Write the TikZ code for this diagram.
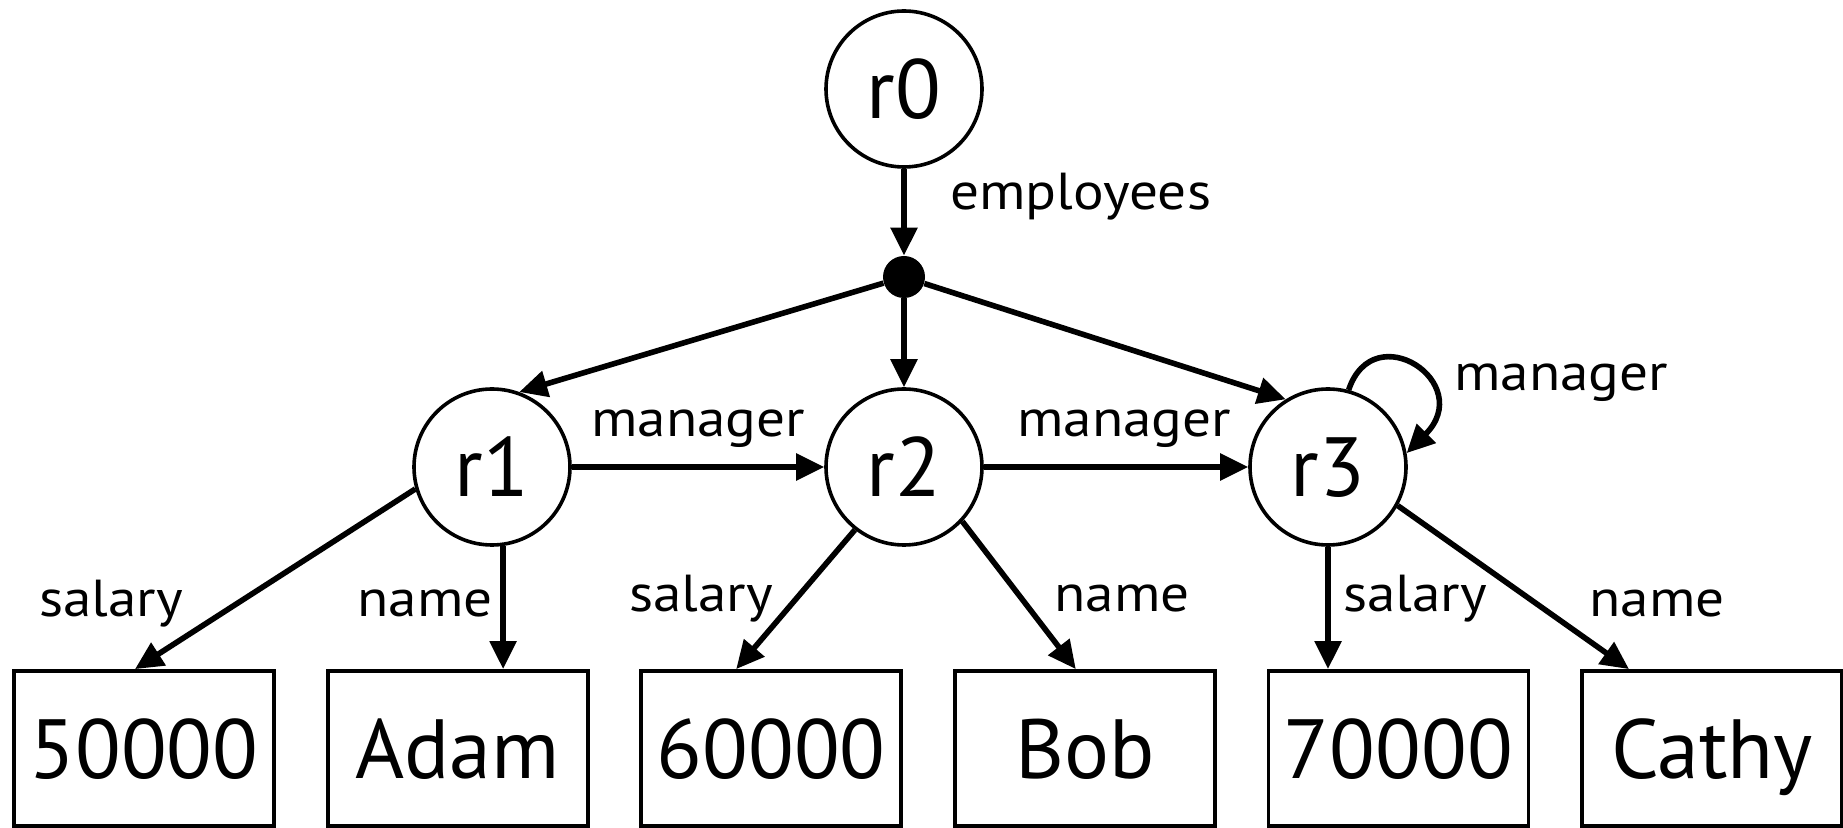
\documentclass[tikz,border=0pt]{standalone}
\usepackage{fontspec}
\setmainfont{PT Sans}
\newfontfamily\lblfont[FakeStretch=1.1]{PT Sans}
\usetikzlibrary{arrows.meta}
\tikzset{
  rnode/.style={circle,draw,line width=1.8pt,minimum size=78pt,inner sep=0pt,
    font=\fontsize{42}{42}\selectfont,text height=29.5pt,text depth=0pt},
  valbox/.style={rectangle,draw,line width=1.9pt,minimum width=130pt,minimum height=77.5pt,inner sep=0pt,
    font=\fontsize{42}{42}\selectfont,text height=29.5pt,text depth=0pt},
  dotnode/.style={circle,fill,minimum size=21pt,inner sep=0pt},
  lbl/.style={anchor=base west,inner sep=0pt,font=\lblfont\fontsize{26}{26}\selectfont},
  edge/.style={line width=2.8pt,-{Triangle[length=14pt,width=13pt]}},
}
\begin{document}
\begin{tikzpicture}[x=0.5pt,y=-0.5pt]
\useasboundingbox (0,0) rectangle (1843,828);
% nodes
\node[rnode] (r0) at (904,89) {r0};
\node[dotnode] (d) at (904,277) {};
\node[rnode] (r1) at (492,467) {r1};
\node[rnode] (r2) at (904,467) {r2};
\node[rnode] (r3) at (1328,467) {r3};
\node[valbox] (b1) at (144,748.5) {50000};
\node[valbox] (b2) at (457.6,748.5) {Adam};
\node[valbox] (b3) at (771.2,748.5) {60000};
\node[valbox] (b4) at (1084.8,748.5) {Bob};
\node[valbox] (b5) at (1398.4,748.5) {70000};
\node[valbox] (b6) at (1712,748.5) {Cathy};
% labels
\node[lbl] (lemp) at (950,210) {employees};
\node[lbl] (lm1) at (591,437) {manager};
\node[lbl] (lm2) at (1017,437) {manager};
\node[lbl] (lm3) at (1454,391) {manager};
\node[lbl] (ls1) at (39,617) {salary};
\node[lbl] (ln1) at (357,617) {name};
\node[lbl] (ls2) at (629,611) {salary};
\node[lbl] (ln2) at (1054,611) {name};
\node[lbl] (ls3) at (1343,611) {salary};
\node[lbl] (ln3) at (1589,617) {name};
% connectors
\draw[edge] (r0) -- (d);
\draw[edge] (d) -- (r1.70);
\draw[edge] (d) -- (r2);
\draw[edge] (d) -- (r3.122);
\draw[edge] (r1) -- (r2);
\draw[edge] (r2) -- (r3);
\draw[edge] (r3.75) .. controls +(25,-75) and +(70,-70) .. (r3.10);
\draw[edge] (r1.196) -- ([xshift=-4.5pt]b1.north);
\draw[edge] (r1.-82) -- (r1.-82 |- b2.north);
\draw[edge] (r2.232) -- ([xshift=-17.5pt]b3.north);
\draw[edge] (r2.-43) -- ([xshift=-4.5pt]b4.north);
\draw[edge] (r3.south) -- (r3.south |- b5.north);
\draw[edge] (r3.-29) -- ([xshift=-41.5pt]b6.north);
\end{tikzpicture}
\end{document}
